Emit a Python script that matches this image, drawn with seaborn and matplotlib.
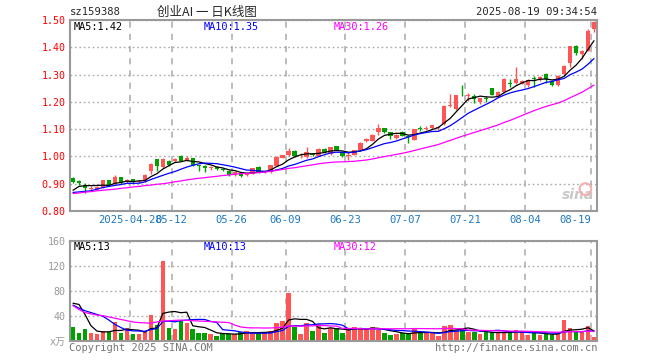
import matplotlib
matplotlib.use('Agg')
import matplotlib.pyplot as plt
import seaborn as sns
import numpy as np
import pandas as pd

code = 'sz159388'
title = '创业AI 一 日K线图'
stamp = '2025-08-19 09:34:54'

# daily candles, 2025-04-14 .. 2025-08-19
opens = [0.921, 0.910, 0.897, 0.882, 0.880, 0.886, 0.913, 0.898, 0.925, 0.909,
         0.916, 0.906, 0.910, 0.947, 0.990, 0.960, 0.984, 0.982, 1.003, 0.988,
         0.993, 0.967, 0.965, 0.959, 0.962, 0.954, 0.948, 0.931, 0.941, 0.933,
         0.937, 0.961, 0.942, 0.943, 0.966, 0.996, 1.004, 1.020, 1.004, 0.998,
         1.008, 1.002, 1.027, 1.010, 1.037, 1.018, 1.000, 1.006, 1.023, 1.055,
         1.058, 1.089, 1.103, 1.088, 1.068, 1.090, 1.075, 1.062, 1.104, 1.101,
         1.103, 1.105, 1.119, 1.184, 1.175, 1.234, 1.222, 1.223, 1.199, 1.213,
         1.250, 1.223, 1.235, 1.270, 1.270, 1.266, 1.261, 1.286, 1.281, 1.302,
         1.276, 1.260, 1.302, 1.341, 1.406, 1.376, 1.388, 1.468]
highs = [0.926, 0.914, 0.901, 0.890, 0.892, 0.915, 0.914, 0.931, 0.926, 0.919,
         0.918, 0.912, 0.934, 0.975, 0.992, 0.993, 0.987, 0.995, 1.005, 1.000,
         0.995, 0.970, 0.967, 0.966, 0.965, 0.956, 0.949, 0.946, 0.943, 0.944,
         0.959, 0.966, 0.950, 0.970, 1.000, 1.007, 1.031, 1.022, 1.011, 1.034,
         1.012, 1.030, 1.030, 1.035, 1.040, 1.020, 1.017, 1.025, 1.053, 1.068,
         1.082, 1.119, 1.105, 1.090, 1.082, 1.092, 1.078, 1.102, 1.110, 1.110,
         1.116, 1.112, 1.188, 1.229, 1.226, 1.260, 1.232, 1.230, 1.215, 1.222,
         1.252, 1.240, 1.286, 1.282, 1.327, 1.280, 1.283, 1.295, 1.295, 1.305,
         1.280, 1.297, 1.335, 1.406, 1.410, 1.390, 1.468, 1.495]
lows = [0.901, 0.896, 0.866, 0.877, 0.877, 0.884, 0.894, 0.896, 0.899, 0.904,
        0.902, 0.901, 0.908, 0.935, 0.947, 0.958, 0.966, 0.980, 0.982, 0.984,
        0.966, 0.948, 0.944, 0.952, 0.951, 0.946, 0.928, 0.928, 0.926, 0.929,
        0.934, 0.938, 0.939, 0.940, 0.964, 0.993, 1.000, 0.998, 0.996, 0.995,
        1.000, 1.000, 1.013, 1.006, 1.022, 0.998, 0.988, 1.004, 1.021, 1.052,
        1.055, 1.079, 1.086, 1.064, 1.065, 1.074, 1.049, 1.060, 1.094, 1.096,
        1.101, 1.098, 1.117, 1.180, 1.170, 1.220, 1.204, 1.196, 1.192, 1.200,
        1.224, 1.220, 1.232, 1.255, 1.266, 1.264, 1.255, 1.253, 1.278, 1.270,
        1.258, 1.258, 1.300, 1.327, 1.372, 1.357, 1.385, 1.455]
closes = [0.907, 0.903, 0.885, 0.884, 0.889, 0.913, 0.896, 0.925, 0.901, 0.912,
          0.905, 0.909, 0.931, 0.972, 0.966, 0.990, 0.970, 0.990, 0.985, 0.993,
          0.968, 0.964, 0.959, 0.962, 0.954, 0.950, 0.931, 0.944, 0.929, 0.939,
          0.957, 0.943, 0.947, 0.967, 0.998, 1.004, 1.021, 1.000, 1.006, 1.016,
          1.006, 1.028, 1.016, 1.033, 1.024, 1.000, 1.004, 1.023, 1.051, 1.063,
          1.079, 1.103, 1.089, 1.074, 1.079, 1.076, 1.072, 1.100, 1.102, 1.104,
          1.115, 1.108, 1.186, 1.186, 1.224, 1.231, 1.226, 1.211, 1.213, 1.210,
          1.226, 1.237, 1.284, 1.267, 1.282, 1.278, 1.280, 1.283, 1.292, 1.285,
          1.262, 1.295, 1.333, 1.404, 1.378, 1.388, 1.459, 1.492]
volumes = [22, 13, 19, 13, 10, 15.5, 13.5, 30, 13, 20,
           11, 10, 14.5, 41, 25, 127.5, 21, 19, 31.5, 29,
           19, 13, 13, 11, 7.5, 13, 11, 10, 13.5, 15.5,
           13.5, 12, 12, 15.5, 29, 31.5, 77, 22, 11, 29,
           15.5, 26, 13, 20, 21, 13, 19, 22, 19, 19,
           22, 17, 13, 9, 11, 12, 11, 19, 12, 12,
           12, 7.5, 24, 25.5, 17, 21, 14.5, 13.5, 11, 13.5,
           13.5, 13.5, 13.5, 12, 17, 14.5, 9, 12, 9, 12,
           9, 12, 33, 20, 13.5, 13.5, 24, 6.5]

ma5_head = [0.876, 0.890, 0.893, 0.893]
ma10_head = [0.868, 0.870, 0.872, 0.874, 0.880, 0.886, 0.890, 0.894, 0.897]
ma30_head = [0.864, 0.866, 0.869, 0.871, 0.874, 0.876, 0.878, 0.880, 0.883, 0.885,
             0.888, 0.890, 0.893, 0.895, 0.898, 0.900, 0.903, 0.907, 0.910, 0.914,
             0.917, 0.920, 0.922, 0.925, 0.927, 0.930, 0.932, 0.935, 0.937]
vma5_head = [60, 58, 42, 24]
vma10_head = [57, 52, 48, 45, 42, 39, 33, 26, 21]
vma30_head = [56, 50, 45, 43, 41, 40, 38, 36, 34, 32, 30, 29, 28.5, 28, 30,
              31.5, 32, 32.5, 33, 32.5, 32, 31.5, 31, 30.5, 30, 29.5, 29, 25, 22]

ma_labels = ['MA5:1.42', 'MA10:1.35', 'MA30:1.26']
vol_labels = ['MA5:13', 'MA10:13', 'MA30:12']
tick_dates = ['2025-04-28', '2025-05-12', '2025-05-26', '2025-06-09', '2025-06-23',
              '2025-07-07', '2025-07-21', '2025-08-04', '2025-08-19']
holidays = ['2025-05-01', '2025-05-02', '2025-05-05', '2025-06-02']
price_ticks = [0.80, 0.90, 1.00, 1.10, 1.20, 1.30, 1.40, 1.50]
vol_ticks = [0, 40, 80, 120, 160]

RED = '#ff5555'
GREEN = '#00a000'
GRID = '#aaaaaa'
EDGE = '#999999'


def moving(values, n, head):
    s = pd.Series(values, dtype=float).rolling(n).mean()
    s.iloc[:len(head)] = head
    return s.values


dates = pd.bdate_range('2025-04-14', '2025-08-19')
dates = dates[~dates.isin(pd.to_datetime(holidays))]
df = pd.DataFrame({'date': dates, 'open': opens, 'high': highs, 'low': lows,
                   'close': closes, 'vol': volumes})
df['idx'] = np.arange(len(df))
df['up'] = df['close'] >= df['open']
df['ma5'] = moving(closes, 5, ma5_head)
df['ma10'] = moving(closes, 10, ma10_head)
df['ma30'] = moving(closes, 30, ma30_head)
df['vma5'] = moving(volumes, 5, vma5_head)
df['vma10'] = moving(volumes, 10, vma10_head)
df['vma30'] = moving(volumes, 30, vma30_head)

tick_pos = [int(df.index[df['date'] == pd.Timestamp(d)][0]) for d in tick_dates]
tick_txt = [tick_dates[0]] + [d[5:] for d in tick_dates[1:]]

sns.set_theme(style='white')
plt.rcParams['font.family'] = ['DejaVu Sans Mono', 'Noto Sans CJK SC']

fig = plt.figure(figsize=(6.6, 3.6), dpi=100)
W, H = 660, 360
ax = fig.add_axes([70 / W, 1 - 211 / H, 527 / W, 191 / H])
axv = fig.add_axes([70 / W, 1 - 340.7 / H, 527 / W, 100 / H])

for a in (ax, axv):
    a.set_xlim(-0.5, len(df) - 0.5)
    for s in a.spines.values():
        s.set_color(EDGE)
        s.set_linewidth(1.5)
    a.tick_params(length=0, pad=3)
    for p in tick_pos:
        a.axvline(p - 0.5, color=GRID, lw=1.1, ls=(0, (4, 4)), zorder=0)

# candles
colors = np.where(df['up'], RED, GREEN)
ax.vlines(df['idx'], df['low'], df['high'], colors=colors, lw=1, zorder=2)
body = (df['close'] - df['open']).abs().clip(lower=0.0028)
ax.bar(df['idx'], body, bottom=df[['open', 'close']].min(axis=1), width=0.72,
       color=colors, linewidth=0, zorder=3)

sns.lineplot(data=df, x='idx', y='ma5', ax=ax, color='black', lw=0.9, zorder=4)
sns.lineplot(data=df, x='idx', y='ma10', ax=ax, color='#0000ff', lw=0.9, zorder=4)
sns.lineplot(data=df, x='idx', y='ma30', ax=ax, color='#ff00ff', lw=0.9, zorder=4)

ax.set_ylim(0.80, 1.50)
ax.set_yticks(price_ticks)
ax.set_yticklabels([f'{v:.2f}' for v in price_ticks], color='#ff0000', fontsize=7.2)
ax.yaxis.grid(True, color=GRID, ls=(0, (1.2, 2)), lw=1)
ax.set_xticks([p - 0.5 for p in tick_pos])
ax.set_xticklabels(tick_txt, color='#1a78c2', fontsize=7.6)
ax.get_xticklabels()[-1].set_ha('right')
ax.set_xlabel('')
ax.set_ylabel('')

# volume
axv.bar(df['idx'], df['vol'], width=0.76, color=colors, linewidth=0, zorder=2)
sns.lineplot(data=df, x='idx', y='vma5', ax=axv, color='black', lw=0.9, zorder=4)
sns.lineplot(data=df, x='idx', y='vma10', ax=axv, color='#0000ff', lw=0.9, zorder=4)
sns.lineplot(data=df, x='idx', y='vma30', ax=axv, color='#ff00ff', lw=0.9, zorder=4)
axv.set_ylim(0, 160)
axv.set_yticks(vol_ticks)
axv.set_yticklabels(['x万'] + [str(v) for v in vol_ticks[1:]], color=EDGE, fontsize=7.2)
axv.yaxis.grid(True, color=GRID, ls=(0, (1.2, 2)), lw=1)
axv.set_xticks([])
axv.set_xlabel('')
axv.set_ylabel('')

# header and labels
fig.text(70 / W, 1 - 12 / H, code, fontsize=7.6, va='center', ha='left')
fig.text(207 / W, 1 - 12 / H, title, fontsize=9, va='center', ha='center',
         family=['Noto Sans CJK SC', 'DejaVu Sans'])
fig.text(597 / W, 1 - 12 / H, stamp, fontsize=7.6, va='center', ha='right')
for x0, txt, col in zip([74, 204, 334], ma_labels, ['black', '#0000ff', '#ff00ff']):
    fig.text(x0 / W, 1 - 27 / H, txt, fontsize=7.4, color=col, va='center')
for x0, txt, col in zip([74, 204, 334], vol_labels, ['black', '#0000ff', '#ff00ff']):
    fig.text(x0 / W, 1 - 247 / H, txt, fontsize=7.4, color=col, va='center')
fig.text(69 / W, 1 - 348 / H, 'Copyright 2025 SINA.COM', fontsize=7.5, color='#777777', va='center')
fig.text(597 / W, 1 - 348 / H, 'http://finance.sina.com.cn', fontsize=7.5, color='#777777',
         va='center', ha='right')

# watermark
ax.text(0.995, 0.045, 'sina', transform=ax.transAxes, ha='right', va='bottom', fontsize=10,
        style='italic', weight='bold', color='#c8c8c8', family='DejaVu Sans', zorder=1)
ax.scatter([0.978], [0.115], s=70, transform=ax.transAxes, facecolor='none',
           edgecolor='#f3b0b0', lw=1.5, zorder=1)

fig.savefig('out.png', dpi=100)
